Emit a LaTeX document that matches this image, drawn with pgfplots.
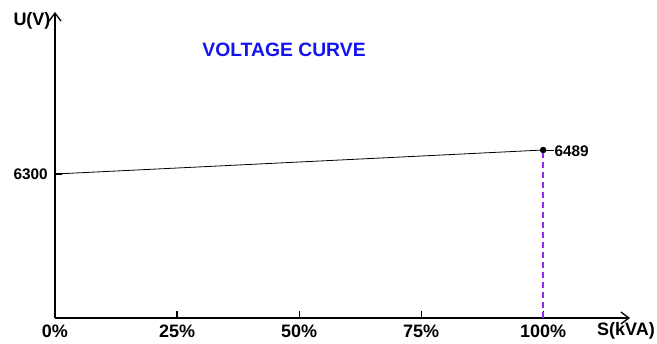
\documentclass[border=0pt]{standalone}
\usepackage{fontspec}
\setmainfont{Liberation Sans}
\usepackage{pgfplots}
\pgfplotsset{compat=1.18}
\usetikzlibrary{arrows.meta}
\definecolor{dashviolet}{RGB}{145,40,245}
\definecolor{titleblue}{RGB}{20,20,240}

\begin{document}
\begin{tikzpicture}
	% picture frame: 657x343 px at 0.75pt per px
	\path[use as bounding box] (0,0) rectangle (492.75pt,257.25pt);
	\begin{axis}[
		at={(41.25pt,18.75pt)}, anchor=south west,
		scale only axis,
		width=431.25pt, height=229.5pt,
		xmin=0, xmax=117.8,
		ymin=5166, ymax=7576,
		axis lines=left,
		axis line style={line width=1.1pt, -{Straight Barb[length=6pt,width=9pt,line width=1pt]}},
		xtick={0,25,50,75,100},
		xticklabels={\textbf{0\%},\textbf{25\%},\textbf{50\%},\textbf{75\%},\textbf{100\%}},
		ytick={6300},
		yticklabels={\textbf{6300}},
		every tick/.style={black, line width=0.8pt},
		major tick length=5pt,
		xtick align=inside,
		ytick align=inside,
		xticklabel style={font=\fontsize{13.5}{14}\selectfont, yshift=-1.5pt},
		yticklabel style={font=\fontsize{11.5}{12}\selectfont, xshift=-2pt},
		clip=false,
	]
		% voltage curve
		\addplot[black, line width=0.6pt] coordinates {(0,6300) (100,6489)};
		% drop line to the axis
		\addplot[draw=dashviolet, line width=1pt, dash pattern=on 4.5pt off 3pt] coordinates {(100,5166) (100,6489)};
		% end point
		\addplot[only marks, mark=*, mark size=2.2pt, black] coordinates {(100,6489)};
		\draw[black, line width=0.6pt] (axis cs:100,6489) -- (axis cs:102.3,6489);
		\node[anchor=west, inner sep=0pt, font=\fontsize{11.5}{12}\selectfont\bfseries] at (axis cs:102.3,6480) {6489};
	\end{axis}
	\node[font=\fontsize{14.5}{15}\selectfont\bfseries, text=titleblue] at (213pt,219.75pt) {VOLTAGE CURVE};
	\node[font=\fontsize{13.5}{14}\selectfont\bfseries] at (24pt,241.5pt) {U(V)};
	\node[font=\fontsize{13.5}{14}\selectfont\bfseries] at (469.5pt,9pt) {S(kVA)};
\end{tikzpicture}
\end{document}
